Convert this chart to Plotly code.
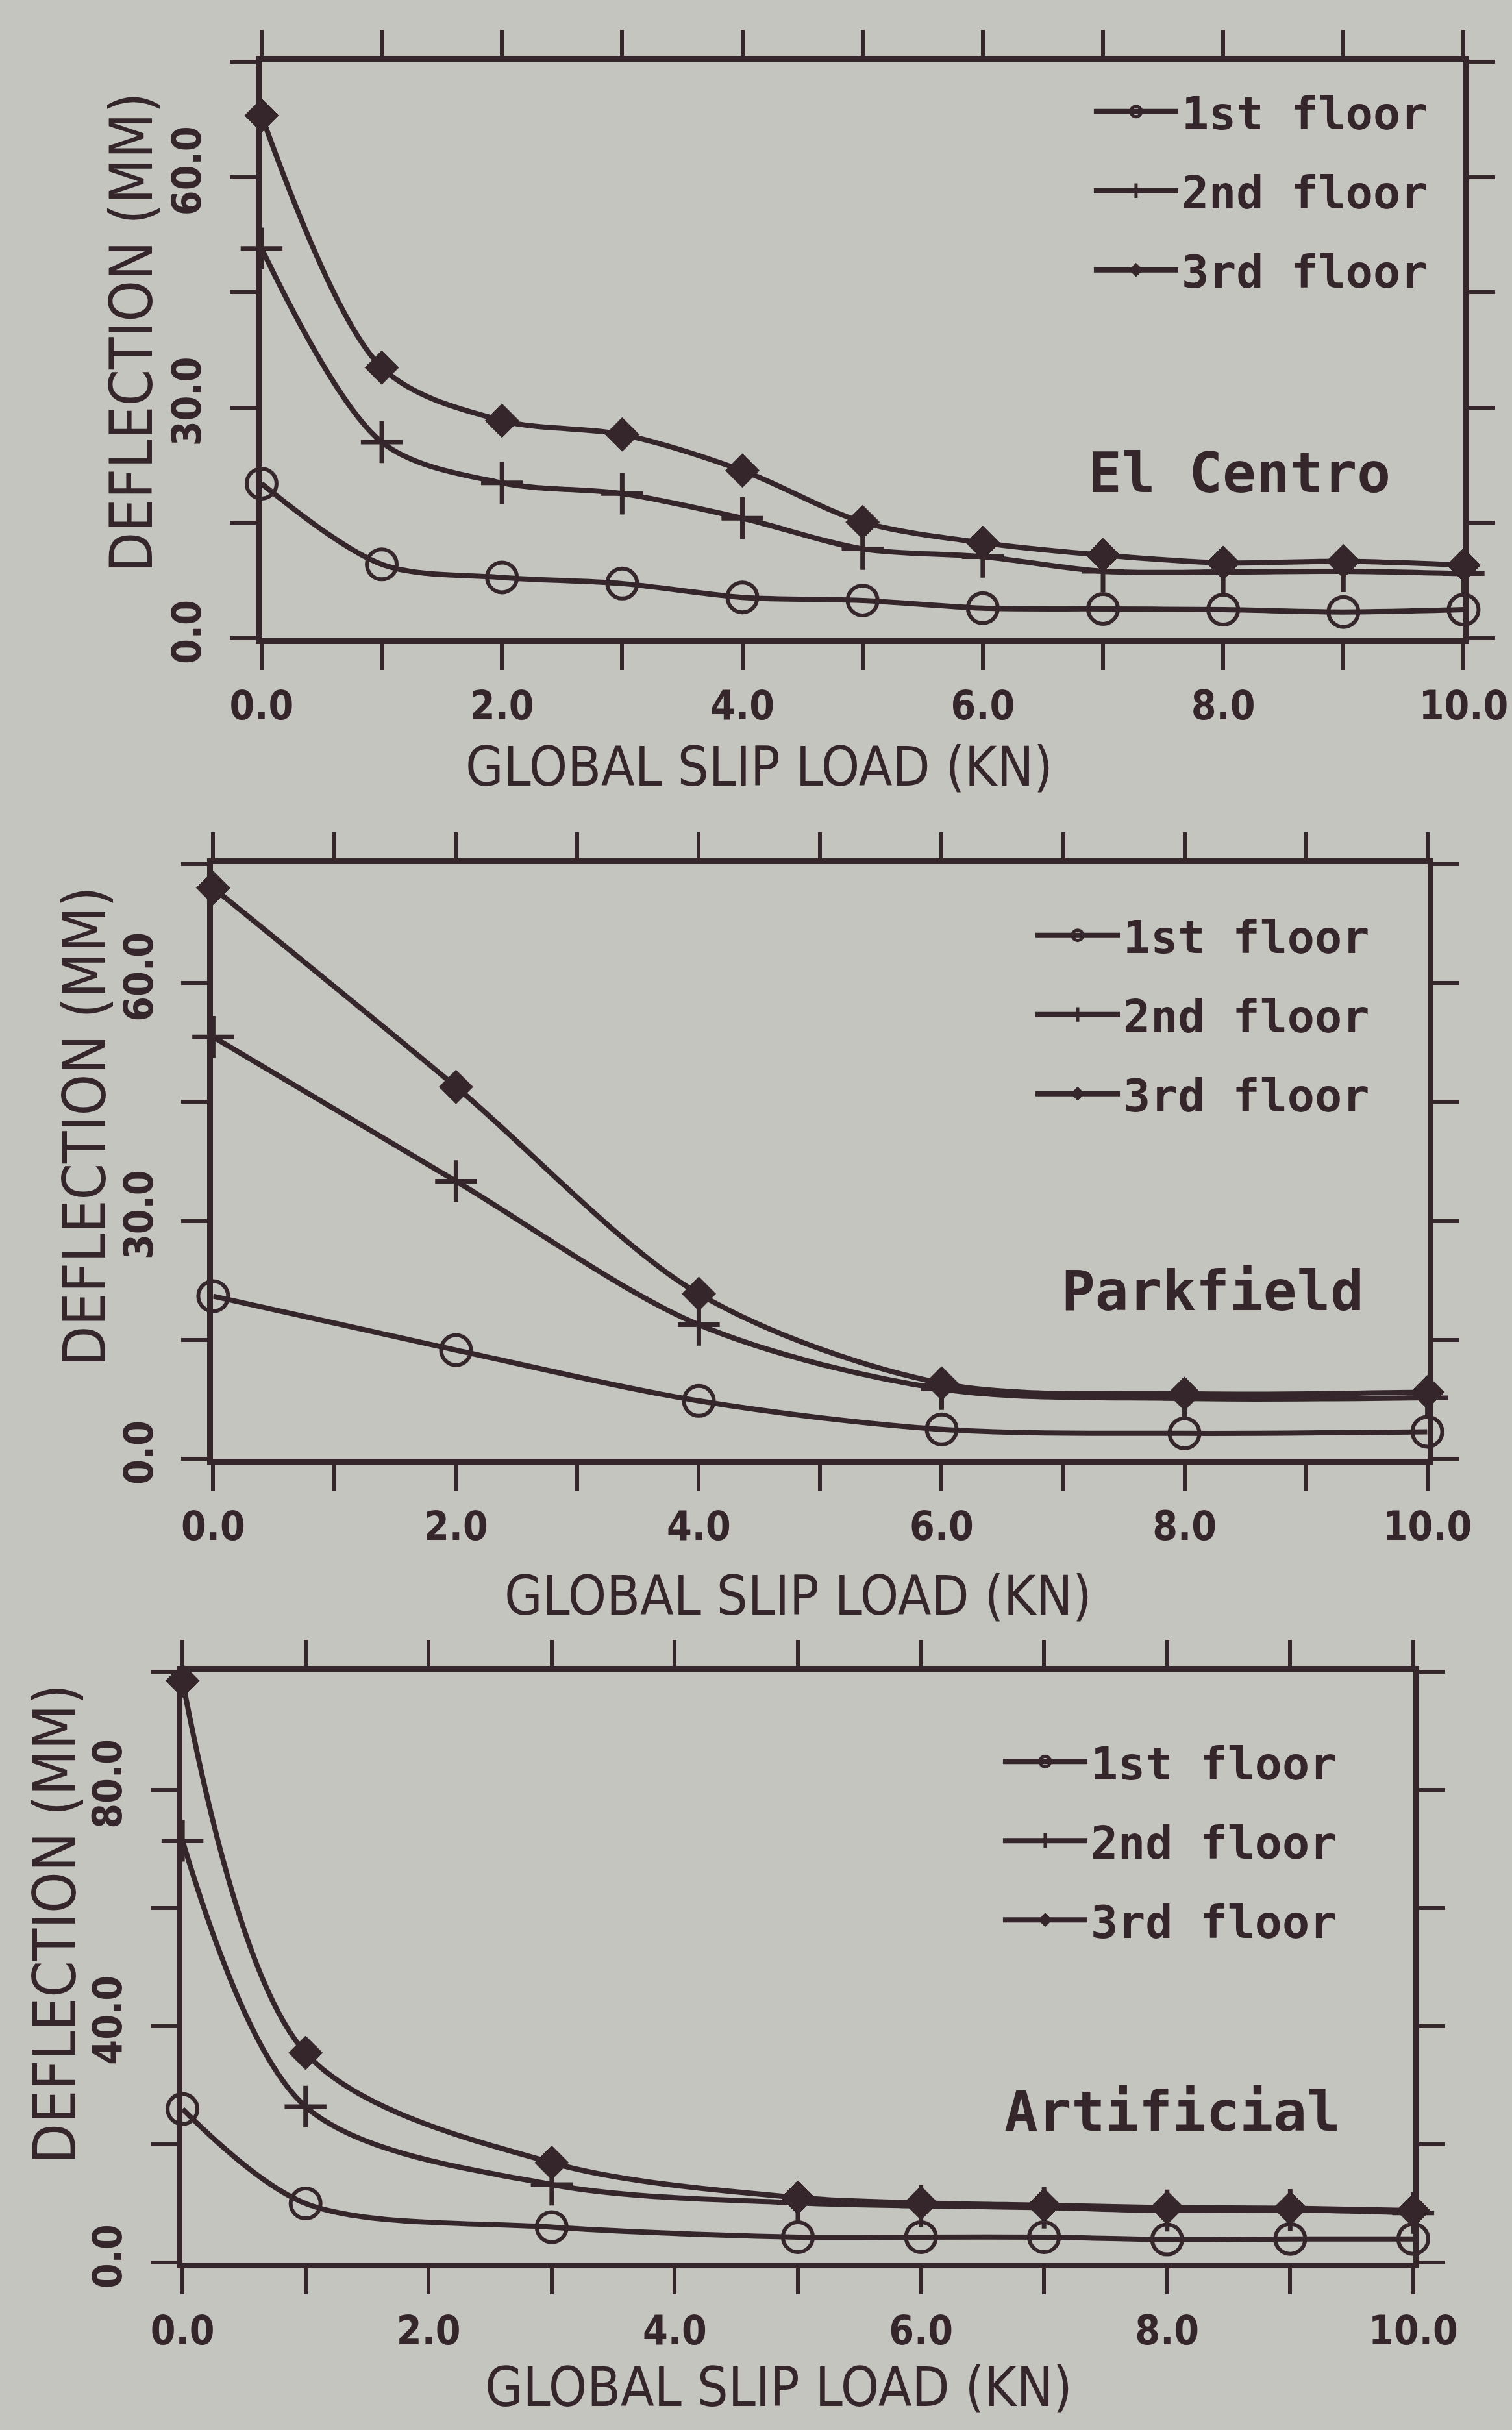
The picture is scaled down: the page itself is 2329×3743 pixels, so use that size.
import plotly.graph_objects as go

# ---------------- data ----------------
x_elcentro = [0, 1, 2, 3, 4, 5, 6, 7, 8, 9, 10]
elc_1st = [20.1, 9.6, 7.9, 7.1, 5.3, 4.9, 3.9, 3.8, 3.7, 3.4, 3.7]
elc_2nd = [50.7, 25.5, 20.2, 18.8, 15.6, 11.6, 10.6, 8.7, 8.6, 8.7, 8.4]
elc_3rd = [68.0, 35.2, 28.3, 26.5, 21.8, 15.1, 12.4, 10.8, 9.8, 10.0, 9.5]

x_parkfield = [0, 2, 4, 6, 8, 10]
pk_1st = [20.5, 13.7, 7.3, 3.7, 3.2, 3.4]
pk_2nd = [53.2, 35.0, 16.9, 8.8, 7.6, 7.7]
pk_3rd = [72.0, 46.9, 20.8, 9.5, 8.2, 8.4]

x_artificial = [0, 1, 3, 5, 6, 7, 8, 9, 10]
ar_1st = [26.0, 10.0, 6.0, 4.3, 4.3, 4.3, 3.9, 4.0, 4.0]
ar_2nd = [71.4, 26.4, 13.2, 10.1, 9.6, 9.3, 8.8, 8.9, 8.4]
ar_3rd = [98.5, 35.5, 16.9, 11.0, 10.1, 9.7, 9.3, 9.2, 8.8]

series_names = ["1st floor", "2nd floor", "3rd floor"]
record_names = ["El Centro", "Parkfield", "Artificial"]

x_tickvals = list(range(0, 11))
x_ticktext = ["0.0", "", "2.0", "", "4.0", "", "6.0", "", "8.0", "", "10.0"]

y_tickvals_1 = [0, 15, 30, 45, 60, 75]
y_ticktext_1 = ["0.0", "", "30.0", "", "60.0", ""]
y_tickvals_3 = [0, 20, 40, 60, 80, 100]
y_ticktext_3 = ["0.0", "", "40.0", "", "80.0", ""]

x_title = "GLOBAL SLIP LOAD (KN)"
y_title = "DEFLECTION (MM)"

# ---------------- style ----------------
INK = "#35262c"
PAPER = "#c4c5bf"
NARROW = "DejaVu Sans Condensed, Liberation Sans Narrow, sans-serif"
MONO = "DejaVu Sans Mono, Liberation Mono, monospace"

panels = [
    dict(x=x_elcentro, ys=[elc_1st, elc_2nd, elc_3rd], yr=[0, 75],
         yt=(y_tickvals_1, y_ticktext_1),
         xdom=[0.173, 0.968], ydom=[0.7374, 0.9746],
         legend=dict(x=0.7213, y=0.968),
         label=(0.8197, 0.8055),
         xt=(0.502, 0.6845), ytl=(0.0872, 0.863)),
    dict(x=x_parkfield, ys=[pk_1st, pk_2nd, pk_3rd], yr=[0, 75],
         yt=(y_tickvals_1, y_ticktext_1),
         xdom=[0.141, 0.944], ydom=[0.3997, 0.6444],
         legend=dict(x=0.6827, y=0.629),
         label=(0.802, 0.4689),
         xt=(0.5277, 0.3433), ytl=(0.0562, 0.5365)),
    dict(x=x_artificial, ys=[ar_1st, ar_2nd, ar_3rd], yr=[0, 100],
         yt=(y_tickvals_3, y_ticktext_3),
         xdom=[0.1207, 0.9347], ydom=[0.0689, 0.3120],
         legend=dict(x=0.6612, y=0.289),
         label=(0.7755, 0.1312),
         xt=(0.5152, 0.0175), ytl=(0.0361, 0.2081)),
]

markers = [
    dict(symbol="circle-open", size=46, color=INK, line=dict(width=6, color=INK)),
    dict(symbol="cross-thin-open", size=46, color=INK, line=dict(width=7, color=INK)),
    dict(symbol="diamond", size=40, color=INK, line=dict(width=1, color=INK)),
]

fig = go.Figure()
layout = dict(
    width=2329, height=3743,
    margin=dict(l=0, r=0, t=0, b=0, autoexpand=False),
    paper_bgcolor=PAPER, plot_bgcolor=PAPER,
    showlegend=True,
    annotations=[],
)

for i, p in enumerate(panels):
    k = "" if i == 0 else str(i + 1)
    legname = "legend" + k
    for j, (yv, name) in enumerate(zip(p["ys"], series_names)):
        fig.add_trace(go.Scatter(
            x=p["x"], y=yv, name=name, mode="lines+markers",
            line=dict(color=INK, width=8, shape="spline", smoothing=0.9),
            marker=markers[j], cliponaxis=False,
            xaxis="x" + k, yaxis="y" + k, legend=legname,
            legendgroup=f"{i}-{j}",
        ))
    axis_common = dict(
        showline=True, linewidth=9, linecolor=INK, mirror="allticks",
        ticks="outside", ticklen=40, tickwidth=6, tickcolor=INK,
        showgrid=False, zeroline=False, automargin=False,
        ticklabeloverflow="allow",
        tickfont=dict(family=NARROW, size=62, color=INK, weight="bold"),
    )
    layout["xaxis" + k] = dict(
        axis_common, domain=p["xdom"], range=[0, 10], anchor="y" + k,
        tickvals=x_tickvals, ticktext=x_ticktext, ticklabelstandoff=2,
    )
    layout["yaxis" + k] = dict(
        axis_common, domain=p["ydom"], range=p["yr"], anchor="x" + k,
        tickvals=p["yt"][0], ticktext=p["yt"][1], tickangle=-90,
        ticklabelstandoff=20,
    )
    layout[legname] = dict(
        x=p["legend"]["x"], y=p["legend"]["y"], xanchor="left", yanchor="top",
        bgcolor="rgba(0,0,0,0)", borderwidth=0,
        font=dict(family=MONO, size=70, color=INK, weight="bold"),
        tracegroupgap=28, itemwidth=130,
    )
    layout["annotations"] += [
        dict(text=record_names[i], x=p["label"][0], y=p["label"][1],
             xref="paper", yref="paper", xanchor="center", yanchor="middle",
             showarrow=False,
             font=dict(family=MONO, size=86, color=INK, weight="bold")),
        dict(text=x_title, x=p["xt"][0], y=p["xt"][1],
             xref="paper", yref="paper", xanchor="center", yanchor="middle",
             showarrow=False,
             font=dict(family=NARROW, size=84, color=INK)),
        dict(text=y_title, x=p["ytl"][0], y=p["ytl"][1], textangle=-90,
             xref="paper", yref="paper", xanchor="center", yanchor="middle",
             showarrow=False,
             font=dict(family=NARROW, size=90, color=INK)),
    ]

fig.update_layout(**layout)
fig.write_html("out.html")
